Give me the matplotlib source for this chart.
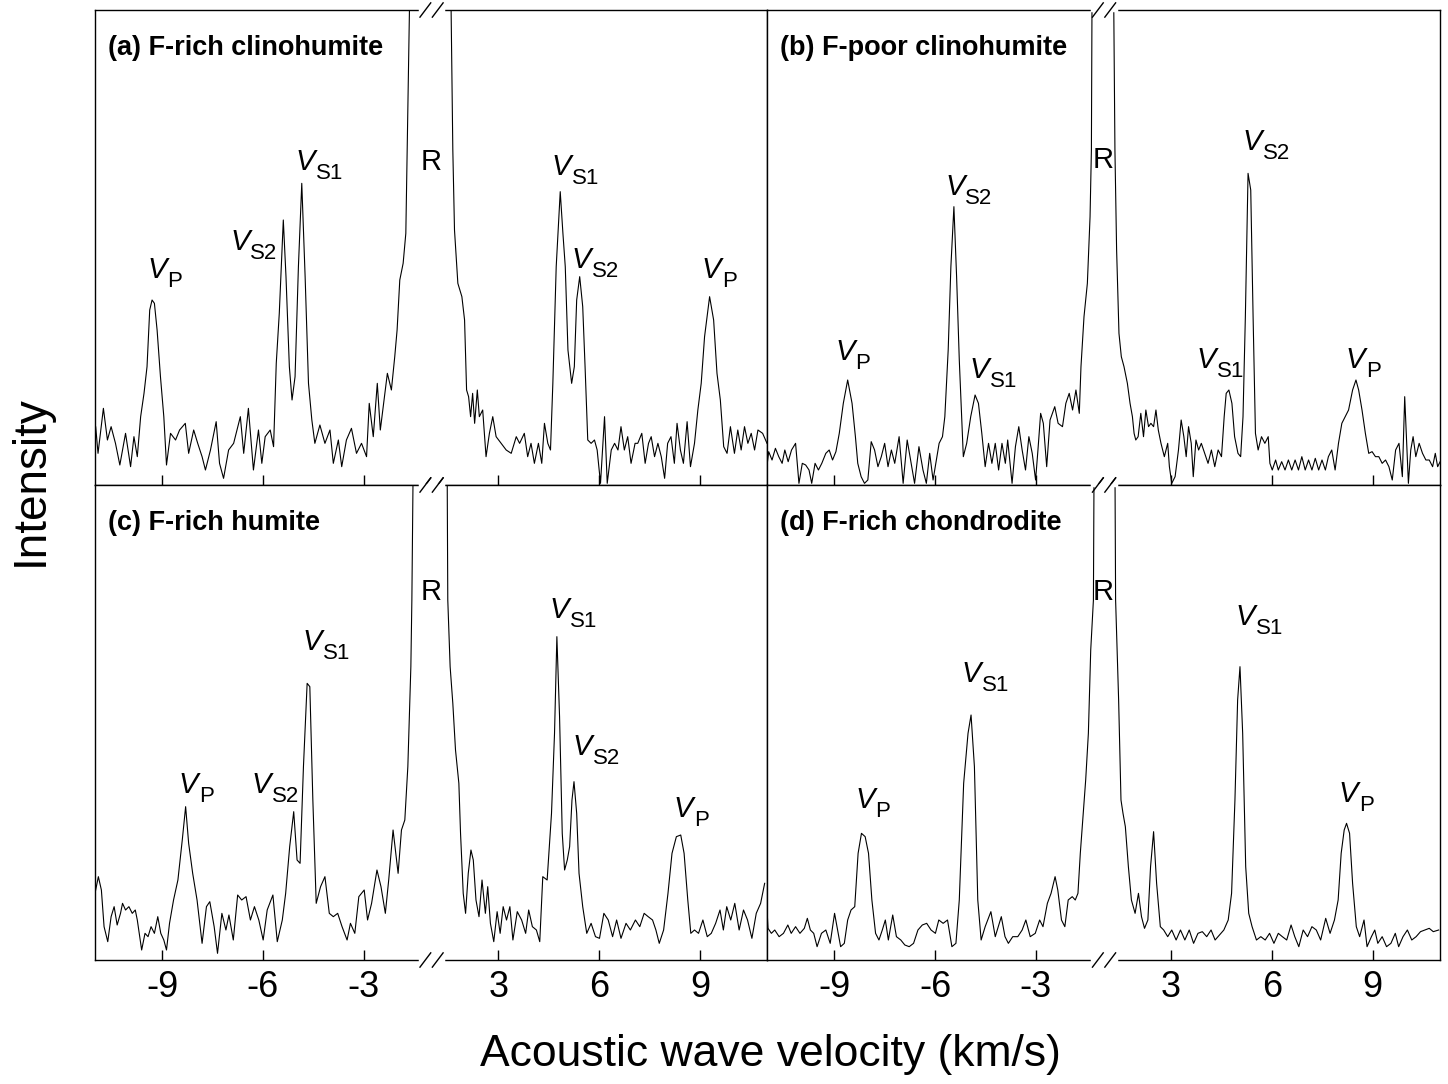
import numpy as np
import matplotlib
matplotlib.use('Agg')
import matplotlib.pyplot as plt

plt.rcParams['font.family'] = ['Liberation Sans', 'DejaVu Sans']
plt.rcParams['axes.unicode_minus'] = False

# velocity (km/s) and intensity (arb. units);
# the Rayleigh line (R) is off scale, its apex is just a large value
vel_a = [-11.03, -10.98, -10.91, -10.75, -10.63, -10.52, -10.39, -10.26, -10.09, -9.94,
         -9.84, -9.74, -9.64, -9.54, -9.45, -9.37, -9.30, -9.23, -9.15, -9.05,
         -8.95, -8.87, -8.75, -8.60, -8.48, -8.31, -8.21, -8.06, -7.94, -7.81,
         -7.71, -7.56, -7.39, -7.29, -7.17, -7.02, -6.87, -6.67, -6.57, -6.43,
         -6.28, -6.13, -6.03, -5.93, -5.78, -5.68, -5.60, -5.51, -5.39, -5.31,
         -5.21, -5.13, -5.04, -4.94, -4.84, -4.74, -4.64, -4.54, -4.45, -4.30,
         -4.15, -4.00, -3.90, -3.75, -3.65, -3.51, -3.36, -3.21, -3.06, -2.91,
         -2.83, -2.71, -2.59, -2.50, -2.40, -2.29, -2.17, -2.07, -2.00, -1.92,
         -1.82, -1.74, -1.70, -1.62, 0.0, 1.58,
         1.64, 1.69, 1.79, 1.91, 1.99, 2.05, 2.11, 2.17, 2.23, 2.29,
         2.37, 2.43, 2.53, 2.63, 2.73, 2.83, 2.93, 3.08, 3.23, 3.38,
         3.53, 3.63, 3.77, 3.87, 3.97, 4.07, 4.19, 4.29, 4.37, 4.47,
         4.55, 4.62, 4.72, 4.84, 4.92, 4.99, 5.07, 5.18, 5.26, 5.33,
         5.42, 5.51, 5.58, 5.66, 5.76, 5.86, 5.94, 6.04, 6.16, 6.24,
         6.36, 6.46, 6.56, 6.65, 6.75, 6.85, 6.95, 7.07, 7.15, 7.27,
         7.37, 7.47, 7.55, 7.65, 7.75, 7.85, 7.95, 8.04, 8.14, 8.24,
         8.32, 8.42, 8.51, 8.62, 8.72, 8.84, 8.94, 9.04, 9.14, 9.29,
         9.41, 9.51, 9.61, 9.71, 9.81, 9.91, 10.03, 10.13, 10.23, 10.33,
         10.43, 10.53, 10.63, 10.73, 10.87, 11.0]
int_a = [185, 175, 95, 230, 135, 175, 125, 60, 155, 55,
         145, 85, 205, 275, 355, 525, 555, 545, 465, 325,
         205, 60, 155, 135, 165, 185, 95, 165, 125, 85,
         45, 105, 190, 65, 20, 105, 125, 205, 95, 230,
         45, 165, 65, 145, 165, 115, 365, 515, 795, 625,
         355, 255, 325, 655, 905, 625, 305, 195, 125, 180,
         125, 165, 65, 135, 55, 135, 170, 95, 125, 85,
         245, 145, 305, 165, 245, 335, 285, 385, 465, 615,
         665, 755, 1005, 1500, 5000, 1500,
         1005, 765, 605, 565, 495, 285, 265, 205, 275, 185,
         285, 205, 225, 85, 155, 205, 145, 125, 105, 95,
         145, 125, 155, 85, 125, 65, 125, 65, 185, 125,
         105, 305, 655, 880, 755, 655, 405, 305, 355, 555,
         625, 535, 355, 135, 125, 135, 105, 5, 205, 5,
         105, 125, 105, 175, 105, 145, 65, 125, 125, 155,
         65, 125, 145, 85, 125, 85, 20, 125, 145, 65,
         185, 105, 65, 190, 55, 125, 225, 305, 445, 565,
         495, 335, 255, 115, 95, 175, 95, 165, 105, 175,
         125, 155, 105, 165, 155, 125]

vel_b = [-11.05, -10.95, -10.85, -10.75, -10.65, -10.55, -10.47, -10.37, -10.27, -10.15,
         -10.05, -9.95, -9.85, -9.75, -9.67, -9.57, -9.47, -9.37, -9.25, -9.15,
         -9.05, -8.95, -8.85, -8.73, -8.60, -8.47, -8.37, -8.30, -8.20, -8.10,
         -8.00, -7.90, -7.80, -7.70, -7.60, -7.50, -7.40, -7.30, -7.20, -7.07,
         -6.95, -6.83, -6.73, -6.61, -6.48, -6.36, -6.26, -6.16, -6.06, -5.96,
         -5.88, -5.78, -5.71, -5.61, -5.53, -5.44, -5.36, -5.28, -5.16, -5.06,
         -4.94, -4.81, -4.71, -4.61, -4.51, -4.41, -4.31, -4.21, -4.11, -4.01,
         -3.91, -3.84, -3.71, -3.61, -3.51, -3.41, -3.31, -3.21, -3.11, -3.01,
         -2.94, -2.86, -2.78, -2.68, -2.58, -2.44, -2.34, -2.21, -2.11, -2.01,
         -1.91, -1.81, -1.71, -1.66, -1.57, -1.47, -1.39, -1.35, -1.33, 0.0, 1.29,
         1.33, 1.38, 1.45, 1.52, 1.60, 1.70, 1.78, 1.85, 1.90, 1.95,
         2.02, 2.10, 2.18, 2.25, 2.33, 2.40, 2.48, 2.55, 2.62, 2.70,
         2.80, 2.90, 2.95, 3.02, 3.12, 3.22, 3.30, 3.38, 3.45, 3.52,
         3.60, 3.66, 3.74, 3.82, 3.90, 4.00, 4.10, 4.20, 4.30, 4.40,
         4.50, 4.58, 4.64, 4.72, 4.81, 4.89, 4.99, 5.07, 5.14, 5.21,
         5.29, 5.37, 5.44, 5.51, 5.59, 5.69, 5.79, 5.89, 5.94, 6.01,
         6.11, 6.19, 6.29, 6.39, 6.49, 6.59, 6.69, 6.79, 6.89, 6.99,
         7.09, 7.19, 7.29, 7.39, 7.49, 7.59, 7.68, 7.78, 7.88, 7.98,
         8.08, 8.18, 8.28, 8.40, 8.50, 8.58, 8.68, 8.78, 8.88, 8.98,
         9.08, 9.18, 9.28, 9.38, 9.48, 9.58, 9.68, 9.78, 9.88, 9.95,
         10.00, 10.06, 10.13, 10.20, 10.28, 10.38, 10.48, 10.58, 10.68, 10.78,
         10.86, 10.93, 11.03]
int_b = [15, 100, 75, 110, 85, 65, 105, 70, 105, 125,
         5, 65, 60, 45, 5, 65, 45, 65, 95, 105,
         75, 100, 155, 245, 315, 245, 145, 65, 25, 5,
         15, 130, 105, 55, 85, 125, 55, 105, 65, 145,
         5, 135, 75, 5, 115, 45, 5, 95, 15, 75,
         125, 145, 205, 405, 655, 835, 625, 375, 85, 125,
         205, 270, 245, 155, 55, 125, 65, 125, 45, 125,
         65, 135, 5, 115, 175, 105, 45, 145, 95, 15,
         105, 215, 185, 55, 195, 235, 185, 175, 245, 275,
         225, 285, 215, 355, 505, 605, 805, 1005, 1500, 5000, 1500,
         1005, 705, 455, 385, 355, 305, 245, 205, 155, 135,
         145, 215, 145, 225, 175, 185, 175, 225, 165, 125,
         85, 125, 55, 5, 25, 105, 195, 145, 85, 175,
         125, 25, 135, 105, 125, 95, 65, 105, 55, 105,
         85, 205, 275, 285, 245, 145, 95, 85, 205, 505,
         935, 885, 505, 155, 105, 145, 125, 145, 65, 45,
         75, 45, 70, 45, 75, 45, 75, 45, 85, 45,
         75, 45, 80, 45, 75, 45, 85, 105, 45, 125,
         185, 205, 225, 285, 315, 285, 225, 155, 95, 100,
         85, 85, 65, 75, 55, 15, 105, 125, 25, 265,
         145, 5, 105, 145, 85, 125, 95, 75, 75, 55,
         95, 55, 75]

vel_c = [-11.00, -10.90, -10.81, -10.73, -10.62, -10.52, -10.43, -10.34, -10.24, -10.18,
         -10.09, -9.99, -9.89, -9.80, -9.74, -9.61, -9.51, -9.42, -9.33, -9.23,
         -9.13, -9.04, -8.95, -8.87, -8.78, -8.66, -8.53, -8.40, -8.30, -8.21,
         -8.09, -7.96, -7.81, -7.68, -7.58, -7.45, -7.35, -7.22, -7.10, -7.01,
         -6.88, -6.75, -6.63, -6.50, -6.37, -6.25, -6.12, -5.99, -5.87, -5.70,
         -5.57, -5.42, -5.32, -5.20, -5.08, -4.98, -4.89, -4.79, -4.68, -4.60,
         -4.51, -4.41, -4.28, -4.15, -4.02, -3.90, -3.77, -3.64, -3.49, -3.39,
         -3.26, -3.14, -2.98, -2.88, -2.76, -2.60, -2.48, -2.35, -2.25, -2.12,
         -1.97, -1.87, -1.77, -1.68, -1.59, -1.56, -1.52, 0.0, 1.47,
         1.49, 1.56, 1.64, 1.72, 1.82, 1.87, 1.95, 2.02, 2.10, 2.18,
         2.25, 2.33, 2.42, 2.51, 2.61, 2.68, 2.76, 2.86, 2.96, 3.05,
         3.14, 3.24, 3.34, 3.43, 3.56, 3.69, 3.81, 3.90, 4.01, 4.13,
         4.23, 4.32, 4.45, 4.58, 4.67, 4.74, 4.82, 4.90, 4.97, 5.05,
         5.12, 5.19, 5.25, 5.33, 5.40, 5.51, 5.63, 5.76, 5.89, 6.01,
         6.14, 6.27, 6.40, 6.52, 6.65, 6.80, 6.93, 7.08, 7.21, 7.34,
         7.46, 7.59, 7.69, 7.79, 7.92, 8.05, 8.17, 8.30, 8.43, 8.53,
         8.64, 8.73, 8.84, 8.96, 9.09, 9.22, 9.34, 9.47, 9.60, 9.70,
         9.80, 9.92, 10.04, 10.17, 10.30, 10.42, 10.55, 10.68, 10.81, 10.93]
int_c = [200, 250, 210, 100, 55, 130, 160, 105, 140, 170,
         150, 160, 140, 150, 120, 30, 80, 70, 100, 80,
         130, 80, 60, 30, 110, 180, 240, 360, 460, 350,
         260, 180, 50, 160, 175, 100, 20, 140, 90, 135,
         60, 195, 180, 190, 120, 160, 120, 60, 150, 195,
         55, 120, 200, 340, 445, 300, 290, 580, 830, 820,
         480, 170, 220, 250, 140, 130, 140, 100, 60, 110,
         80, 190, 210, 120, 170, 270, 220, 140, 240, 390,
         260, 390, 420, 580, 880, 1080, 1500, 5000, 1500,
         1080, 880, 770, 630, 530, 380, 200, 140, 260, 330,
         300, 180, 130, 240, 140, 220, 110, 55, 145, 80,
         160, 120, 160, 60, 145, 120, 80, 150, 100, 90,
         55, 250, 240, 440, 680, 970, 730, 380, 270, 300,
         340, 480, 535, 440, 260, 160, 80, 110, 70, 65,
         140, 120, 70, 120, 65, 110, 90, 120, 100, 140,
         130, 120, 90, 50, 90, 200, 320, 370, 375, 320,
         180, 80, 90, 80, 120, 70, 80, 110, 150, 90,
         160, 120, 170, 90, 150, 120, 65, 140, 170, 230]

vel_d = [-11.03, -10.97, -10.87, -10.77, -10.64, -10.51, -10.38, -10.28, -10.15, -10.02,
         -9.89, -9.80, -9.71, -9.61, -9.51, -9.38, -9.25, -9.12, -8.99, -8.90,
         -8.81, -8.70, -8.60, -8.50, -8.39, -8.29, -8.19, -8.08, -7.98, -7.88,
         -7.77, -7.67, -7.57, -7.48, -7.39, -7.26, -7.15, -7.02, -6.90, -6.77,
         -6.64, -6.51, -6.38, -6.25, -6.12, -5.99, -5.89, -5.76, -5.63, -5.50,
         -5.38, -5.28, -5.15, -5.02, -4.93, -4.83, -4.73, -4.63, -4.51, -4.34,
         -4.21, -4.12, -4.03, -3.92, -3.82, -3.69, -3.54, -3.41, -3.30, -3.17,
         -3.02, -2.89, -2.79, -2.66, -2.55, -2.43, -2.35, -2.24, -2.14, -2.04,
         -1.92, -1.83, -1.75, -1.68, -1.60, -1.52, -1.44, -1.37, -1.29, -1.27, 0.0, 1.33,
         1.35, 1.44, 1.51, 1.57, 1.64, 1.73, 1.82, 1.93, 2.03, 2.12,
         2.21, 2.31, 2.39, 2.48, 2.57, 2.68, 2.78, 2.90, 3.02, 3.15,
         3.28, 3.41, 3.54, 3.67, 3.80, 3.93, 4.06, 4.19, 4.31, 4.44,
         4.57, 4.70, 4.80, 4.90, 4.98, 5.05, 5.13, 5.22, 5.31, 5.41,
         5.54, 5.67, 5.80, 5.93, 6.06, 6.19, 6.31, 6.44, 6.57, 6.68,
         6.80, 6.93, 7.06, 7.19, 7.32, 7.45, 7.60, 7.73, 7.86, 7.97,
         8.06, 8.15, 8.22, 8.31, 8.40, 8.51, 8.61, 8.74, 8.83, 8.96,
         9.06, 9.15, 9.28, 9.41, 9.54, 9.67, 9.77, 9.90, 10.03, 10.16,
         10.29, 10.42, 10.55, 10.68, 10.80, 10.96]
int_d = [210, 95, 80, 90, 70, 80, 105, 80, 100, 80,
         95, 125, 90, 80, 40, 80, 90, 50, 140, 90,
         40, 50, 120, 150, 160, 320, 380, 370, 320, 180,
         80, 60, 90, 120, 60, 135, 70, 60, 45, 40,
         50, 90, 105, 110, 90, 80, 120, 110, 120, 40,
         50, 180, 530, 680, 735, 580, 180, 60, 100, 145,
         70, 100, 130, 70, 50, 70, 70, 90, 120, 70,
         80, 120, 100, 170, 200, 250, 210, 120, 100, 180,
         190, 180, 200, 320, 430, 540, 680, 930, 1080, 1500, 5000, 1500,
         1080, 780, 480, 440, 400, 280, 180, 140, 200, 130,
         95, 120, 280, 385, 230, 100, 90, 70, 90, 60,
         90, 60, 90, 50, 80, 85, 70, 90, 60, 75,
         90, 120, 200, 480, 780, 880, 680, 280, 140, 100,
         60, 70, 60, 80, 50, 80, 70, 60, 105, 70,
         40, 90, 70, 100, 90, 60, 125, 80, 120, 180,
         320, 390, 410, 380, 230, 100, 70, 120, 40, 70,
         90, 50, 70, 40, 50, 80, 40, 70, 90, 60,
         70, 85, 90, 95, 85, 90]

titles = ['(a) F-rich clinohumite', '(b) F-poor clinohumite',
          '(c) F-rich humite', '(d) F-rich chondrodite']
tick_vals = [-9, -6, -3, 3, 6, 9]
tick_labels = ['-9', '-6', '-3', '3', '6', '9']

# peak labels: (velocity, height, subscript)
peaks_a = [(-8.86, 621, 'P'), (-6.39, 705, 'S2'), (-4.45, 945, 'S1'),
           (5.17, 930, 'S1'), (5.76, 651, 'S2'), (9.63, 621, 'P')]
peaks_b = [(-8.39, 375, 'P'), (-5.12, 870, 'S2'), (-4.40, 321, 'S1'),
           (4.34, 351, 'S1'), (5.71, 1005, 'S2'), (8.77, 351, 'P')]
peaks_c = [(-7.93, 501, 'P'), (-5.76, 501, 'S2'), (-4.24, 930, 'S1'),
           (5.11, 1026, 'S1'), (5.79, 615, 'S2'), (8.80, 429, 'P')]
peaks_d = [(-7.79, 456, 'P'), (-4.64, 834, 'S1'), (5.50, 1005, 'S1'), (8.56, 474, 'P')]
r_height = [945, 951, 1080, 1080]


# broken x axis: the band -1..1 around the Rayleigh line is squeezed out
def fwd(v):
    v = np.asarray(v, dtype=float)
    return v - 0.99 * np.clip(v, -1, 1)


def inv(d):
    d = np.asarray(d, dtype=float)
    return np.where(np.abs(d) <= 0.01, d / 0.01, d + 0.99 * np.sign(d))


def vlabel(ax, v, y, sub):
    ax.annotate('V', (v, y), xytext=(0, 0), textcoords='offset points',
                ha='right', va='baseline', fontsize=21, fontstyle='italic')
    ax.annotate(sub, (v, y), xytext=(0.5, -6.5), textcoords='offset points',
                ha='left', va='baseline', fontsize=16)


fig = plt.figure(figsize=(14.48, 10.84), dpi=100)
L, M, R = 95 / 1448, 767 / 1448, 1440 / 1448
T, Mid, B = 1 - 10 / 1084, 1 - 485 / 1084, 1 - 960 / 1084
boxes = [[L, Mid, M - L, T - Mid], [M, Mid, R - M, T - Mid],
         [L, B, M - L, Mid - B], [M, B, R - M, Mid - B]]
data = [(vel_a, int_a, peaks_a), (vel_b, int_b, peaks_b),
        (vel_c, int_c, peaks_c), (vel_d, int_d, peaks_d)]

for k in range(4):
    vel, inten, peaks = data[k]
    ax = fig.add_axes(boxes[k])
    ax.set_xscale('function', functions=(fwd, inv))
    ax.plot(vel, inten, color='black', lw=0.8)
    ax.set_xlim(-11, 11)
    ax.set_ylim(0, 1425)
    ax.set_yticks([])
    ax.set_xticks(tick_vals)
    ax.minorticks_off()
    if k >= 2:
        ax.set_xticklabels(tick_labels)
    else:
        ax.set_xticklabels([])
    ax.tick_params(axis='x', direction='in', length=7, width=1, labelsize=26, pad=7)
    for s in ax.spines.values():
        s.set_linewidth(1.0)

    # break marks on top and bottom spines
    for yy in (0, 1):
        ax.plot([0.4836, 0.518], [yy, yy], transform=ax.transAxes, color='white',
                lw=2.5, clip_on=False, zorder=5)
        for x0 in (0.4836, 0.502):
            ax.plot([x0, x0 + 0.016], [yy - 0.015, yy + 0.015], transform=ax.transAxes,
                    color='black', lw=1, clip_on=False, zorder=6)

    ax.text(0.019, 0.92, titles[k], transform=ax.transAxes, fontsize=19.5,
            fontweight='bold', ha='left', va='center')
    ax.text(0, r_height[k], 'R', fontsize=21, ha='center', va='baseline')
    for v, y, sub in peaks:
        vlabel(ax, v, y, sub)

fig.text(0.021, 0.557, 'Intensity', rotation=90, fontsize=33, ha='center', va='center')
fig.text(0.532, 0.027, 'Acoustic wave velocity (km/s)', fontsize=32, ha='center', va='center')

fig.savefig('out.png', dpi=100)
